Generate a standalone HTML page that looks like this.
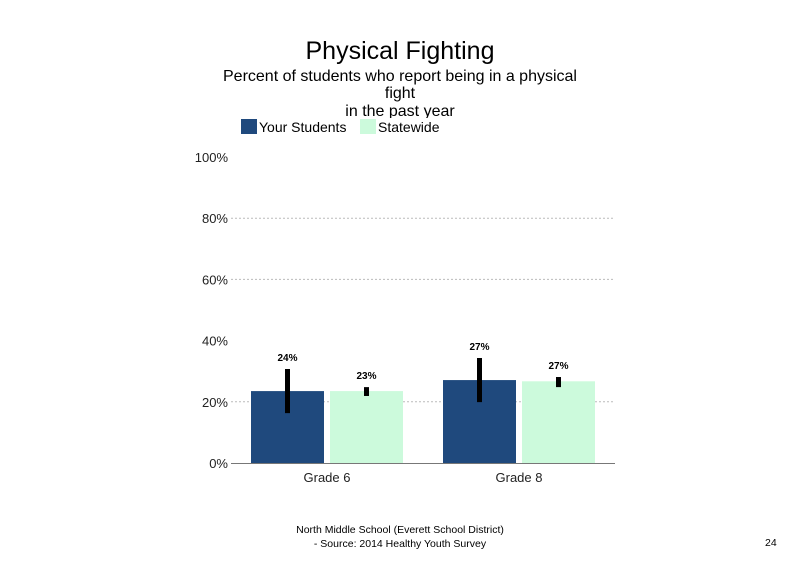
<!DOCTYPE html>
<html><head><meta charset="utf-8"><style>
body{margin:0;width:800px;height:568px;background:#fff;overflow:hidden;font-family:"Liberation Sans",sans-serif}
</style></head><body>
<svg width="800" height="568" font-family="Liberation Sans, sans-serif">
<text x="400" y="59" font-size="25" text-anchor="middle">Physical Fighting</text>
<text x="400" y="81" font-size="16" text-anchor="middle">Percent of students  who report being in a physical</text>
<text x="400" y="98" font-size="16" text-anchor="middle">fight</text>
<text x="400" y="116" font-size="16" text-anchor="middle">in the past year</text>
<rect x="235" y="118" width="230" height="20" fill="#fff"/>
<g>
<rect x="241" y="119" width="16" height="15" fill="#1f497d"/>
<text x="259" y="132" font-size="14">Your Students</text>
<rect x="360" y="119" width="16" height="15" fill="#ccfadc"/>
<text x="378" y="132" font-size="14">Statewide</text>
</g>
<g id="plot"></g>
<text x="400" y="533" font-size="10.5" text-anchor="middle">North Middle School (Everett School District)</text>
<text x="400" y="547" font-size="10.5" text-anchor="middle">- Source: 2014 Healthy  Youth Survey</text>
<text x="765" y="546" font-size="10.5">24</text>
</svg>
<script>
const categories=["Grade 6","Grade 8"];
const yourValues=[23.5,27.1];
const stateValues=[23.5,26.7];
const yourLow=[16.3,19.9];
const yourHigh=[30.7,34.3];
const stateLow=[21.9,24.8];
const stateHigh=[24.8,28.1];
const yourLabels=["24%","27%"];
const stateLabels=["23%","27%"];
const yTicks=[0,20,40,60,80,100];
const NS="http://www.w3.org/2000/svg";
const g=document.getElementById('plot');
const y=v=>463-v*3.06;
const x0=231,x1=615,gw=(x1-x0)/categories.length;
function mk(t,a){const e=document.createElementNS(NS,t);for(const k in a)e.setAttribute(k,a[k]);g.appendChild(e);return e;}
yTicks.forEach(t=>{
 if(t>0&&t<100&&t%40!==0||t===80){const l=mk('line',{x1:x0,x2:x1,y1:y(t),y2:y(t),stroke:'#bbb','stroke-dasharray':'2,2'});
 
 }
 const tx=mk('text',{x:228,y:y(t)+5,'font-size':13,'text-anchor':'end',fill:'#222'});tx.textContent=t+'%';
 
 
});
const ax=mk('line',{x1:x0,x2:x1,y1:463.5,y2:463.5,stroke:'#777'});


categories.forEach((c,i)=>{
 const cx=x0+gw*i+gw/2;
 const series=[[yourValues[i],yourLow[i],yourHigh[i],yourLabels[i],'#1f497d',cx-76,'your-students'],[stateValues[i],stateLow[i],stateHigh[i],stateLabels[i],'#ccfadc',cx+3,'statewide']];
 series.forEach(s=>{
  const b=mk('rect',{x:s[5],y:y(s[0]),width:73,height:y(0)-y(s[0]),fill:s[4]});
  
  
  const mx=s[5]+36.5;
  const e=mk('line',{x1:mx,x2:mx,y1:y(s[2]),y2:y(s[1]),stroke:'#000','stroke-width':5});
  
  
  const t=mk('text',{x:mx,y:y(s[2])-8,'font-size':10,'font-weight':'bold','text-anchor':'middle'});t.textContent=s[3];
  
  
 });
 const ct=mk('text',{x:cx,y:482,'font-size':13,'text-anchor':'middle',fill:'#222'});ct.textContent=c;
 
 
});
</script>
</body></html>
